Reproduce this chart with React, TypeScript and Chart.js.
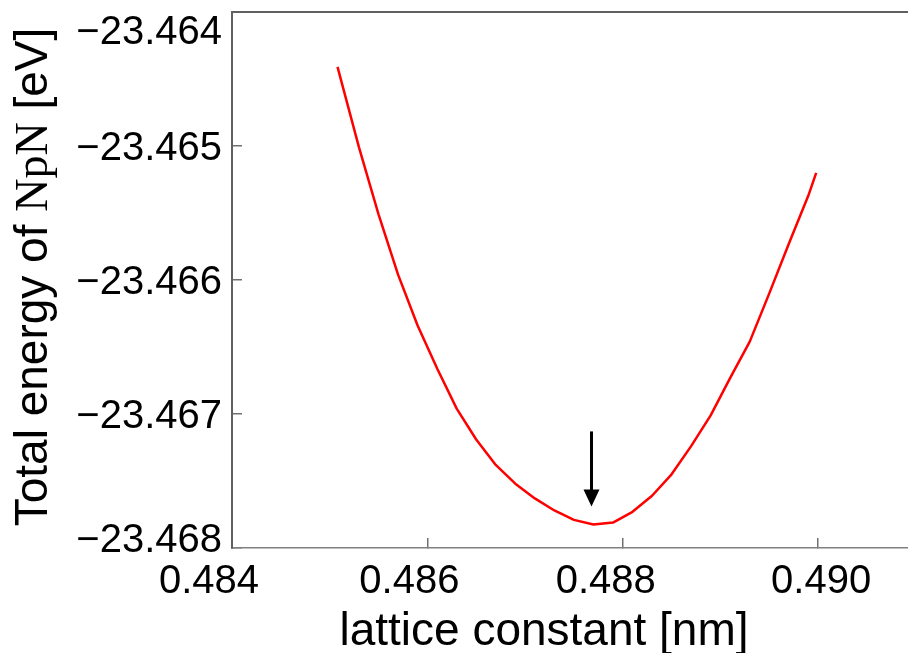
import { useEffect, useRef } from "react";
import { Chart, registerables } from "chart.js";

Chart.register(...registerables);

// lattice constant [nm]
const LATTICE_NM = [
  0.48508, 0.4853, 0.4855, 0.4857, 0.4859, 0.4861, 0.4863, 0.4865, 0.4867,
  0.4869, 0.4871, 0.4873, 0.4875, 0.4877, 0.4879, 0.4881, 0.4883, 0.4885,
  0.4887, 0.4889, 0.4891, 0.4893, 0.4895, 0.4897, 0.4899, 0.48998,
];
// total energy [eV]
const ENERGY_EV = [
  -23.46441, -23.46501, -23.46551, -23.46596, -23.46634, -23.46666, -23.46696,
  -23.46719, -23.46738, -23.46752, -23.46763, -23.46772, -23.46779, -23.467825,
  -23.46781, -23.46773, -23.46761, -23.46745, -23.46724, -23.46701, -23.46673,
  -23.46646, -23.4661, -23.46573, -23.46537, -23.4652,
];

const X_TICKS = [0.484, 0.486, 0.488, 0.49];
const X_TICK_LABELS = ["0.484", "0.486", "0.488", "0.490"];
const Y_TICKS = [-23.468, -23.467, -23.466, -23.465, -23.464];
const Y_TICK_LABELS = ["\u221223.468", "\u221223.467", "\u221223.466", "\u221223.465", "\u221223.464"];

const X_MIN = 0.484;
const X_MAX = 0.49092;
const Y_MIN = -23.468;
const Y_MAX = -23.464;

// arrow marking the minimum
const ARROW_X = 0.48768;
const ARROW_FROM = -23.46713;
const ARROW_TO = -23.46769;

// label nudges (style)
const X_LABEL_NUDGE = [-23, -18, -17, 3];

const SANS = '"Liberation Sans", Arial, sans-serif';
const SERIF = '"Liberation Serif", "Times New Roman", serif';

const overlay = {
  id: "overlay",
  afterDraw(chart: any) {
    const { ctx, chartArea: a, scales } = chart;
    const x = scales.x;
    const y = scales.y;
    ctx.save();

    // top frame line
    ctx.strokeStyle = "#606060";
    ctx.lineWidth = 2;
    ctx.beginPath();
    ctx.moveTo(a.left, a.top);
    ctx.lineTo(a.right, a.top);
    ctx.stroke();

    // arrow
    const ax = x.getPixelForValue(ARROW_X);
    const y0 = y.getPixelForValue(ARROW_FROM);
    const y1 = y.getPixelForValue(ARROW_TO);
    ctx.strokeStyle = "#000";
    ctx.lineWidth = 3;
    ctx.beginPath();
    ctx.moveTo(ax, y0);
    ctx.lineTo(ax, y1 - 14);
    ctx.stroke();
    ctx.fillStyle = "#000";
    ctx.beginPath();
    ctx.moveTo(ax - 8, y1 - 17);
    ctx.lineTo(ax + 8, y1 - 17);
    ctx.lineTo(ax, y1);
    ctx.closePath();
    ctx.fill();

    // tick labels
    ctx.fillStyle = "#000";
    ctx.font = `40px ${SANS}`;
    ctx.textBaseline = "alphabetic";
    ctx.textAlign = "right";
    const cap = 28.6;
    Y_TICKS.forEach((v, i) => {
      const p = y.getPixelForValue(v);
      const base = Math.min(Math.max(p + cap / 2, a.top + 3 + cap), a.bottom + 4);
      ctx.fillText(Y_TICK_LABELS[i], a.left - 10, base);
    });
    ctx.textAlign = "center";
    X_TICKS.forEach((v, i) => {
      ctx.fillText(X_TICK_LABELS[i], x.getPixelForValue(v) + X_LABEL_NUDGE[i], a.bottom + 45);
    });

    // x title
    ctx.font = `46px ${SANS}`;
    ctx.fillText("lattice constant [nm]", a.left + 312, a.bottom + 97);

    // y title (mixed fonts)
    const parts = [
      { t: "Total energy of ", f: `46px ${SANS}` },
      { t: "NpN", f: `46px ${SERIF}` },
      { t: " [eV]", f: `46px ${SANS}` },
    ];
    let total = 0;
    const widths = parts.map((p) => {
      ctx.font = p.f;
      const w = ctx.measureText(p.t).width;
      total += w;
      return w;
    });
    ctx.translate(47, (a.top + a.bottom) / 2 - 3);
    ctx.rotate(-Math.PI / 2);
    ctx.textAlign = "left";
    let cx = -total / 2;
    parts.forEach((p, i) => {
      ctx.font = p.f;
      ctx.fillText(p.t, cx, 0);
      cx += widths[i];
    });

    ctx.restore();
  },
};

export default function App() {
  const ref = useRef<HTMLCanvasElement | null>(null);

  useEffect(() => {
    if (!ref.current) return;
    const data = LATTICE_NM.map((v, i) => ({ x: v, y: ENERGY_EV[i] }));
    const chart = new Chart(ref.current, {
      type: "line",
      data: {
        datasets: [
          {
            data,
            borderColor: "#ff0000",
            borderWidth: 2.5,
            pointRadius: 0,
            tension: 0,
            fill: false,
            borderJoinStyle: "round",
          },
        ],
      },
      plugins: [overlay],
      options: {
        animation: false,
        responsive: false,
        devicePixelRatio: 1,
        layout: { padding: { top: 12, left: 0, right: 0, bottom: 0 } },
        plugins: { legend: { display: false }, tooltip: { enabled: false } },
        events: [],
        scales: {
          x: {
            type: "linear",
            min: X_MIN,
            max: X_MAX,
            afterBuildTicks: (s: any) => {
              s.ticks = X_TICKS.map((v) => ({ value: v }));
            },
            afterFit: (s: any) => {
              s.height = 105;
              s.paddingLeft = 0;
              s.paddingRight = 0;
            },
            ticks: { display: false },
            grid: {
              display: true,
              drawOnChartArea: false,
              drawTicks: true,
              tickLength: -10,
              color: "#707070",
              lineWidth: 1.5,
            },
            border: { display: true, color: "#808080", width: 1.5 },
          },
          y: {
            type: "linear",
            min: Y_MIN,
            max: Y_MAX,
            afterBuildTicks: (s: any) => {
              s.ticks = Y_TICKS.map((v) => ({ value: v }));
            },
            afterFit: (s: any) => {
              s.width = 232;
              s.paddingTop = 0;
              s.paddingBottom = 0;
            },
            ticks: { display: false },
            grid: {
              display: true,
              drawOnChartArea: false,
              drawTicks: true,
              tickLength: -10,
              color: "#707070",
              lineWidth: 1.5,
            },
            border: { display: true, color: "#606060", width: 2 },
          },
        },
      },
    } as any);
    return () => chart.destroy();
  }, []);

  return (
    <div style={{ position: "fixed", left: 0, top: 0, width: 908, height: 653, background: "#fff" }}>
      <canvas ref={ref} width={908} height={653} style={{ width: 908, height: 653, display: "block" }} />
    </div>
  );
}
